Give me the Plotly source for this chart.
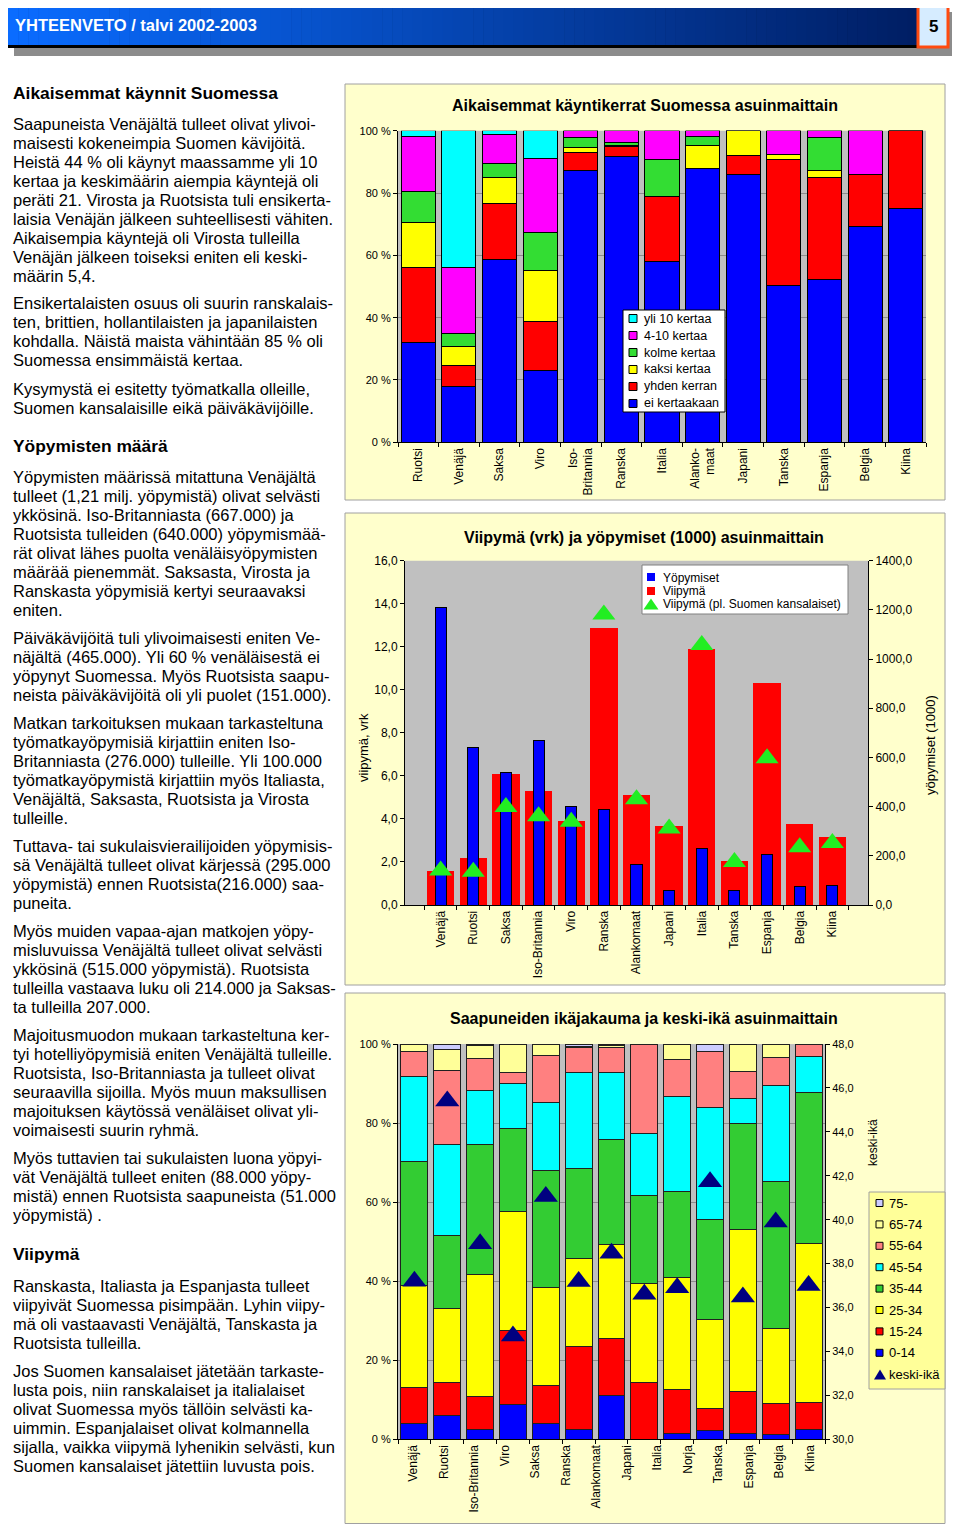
import plotly.graph_objects as go

# ---------------- chart 1: previous visits (%) ----------------
visit_countries = ["Ruotsi", "Venäjä", "Saksa", "Viro", "Iso-<br>Britannia", "Ranska", "Italia",
                   "Alanko-<br>maat", "Japani", "Tanska", "Espanja", "Belgia", "Kiina"]
visit_none = [32.0, 17.9, 58.7, 23.0, 87.1, 91.7, 58.0, 87.9, 85.8, 50.2, 52.3, 69.2, 74.9]
visit_once = [24.0, 6.8, 18.0, 15.9, 5.8, 3.2, 21.0, 0.0, 6.4, 40.4, 32.7, 16.6, 25.1]
visit_twice = [14.5, 6.0, 8.2, 16.2, 1.8, 0.4, 0.0, 7.3, 7.8, 1.9, 2.2, 0.0, 0.0]
visit_three = [10.1, 4.3, 4.6, 12.2, 3.2, 1.0, 11.6, 2.9, 0.0, 0.0, 10.6, 0.0, 0.0]
visit_4_10 = [17.5, 21.0, 9.4, 23.8, 2.1, 3.7, 9.4, 1.9, 0.0, 7.5, 2.2, 14.2, 0.0]
visit_over10 = [1.9, 44.0, 1.1, 8.9, 0.0, 0.0, 0.0, 0.0, 0.0, 0.0, 0.0, 0.0, 0.0]
visit_names = ["ei kertaakaan", "yhden kerran", "kaksi kertaa", "kolme kertaa", "4-10 kertaa", "yli 10 kertaa"]

# ---------------- chart 2: length of stay & overnights ----------------
stay_countries = ["Venäjä", "Ruotsi", "Saksa", "Iso-Britannia", "Viro", "Ranska", "Alankomaat",
                  "Japani", "Italia", "Tanska", "Espanja", "Belgia", "Kiina"]
nights_1000 = [1210, 640, 538, 667, 400, 389, 163, 61, 230, 61, 206, 75, 81]
stay_days = [1.6, 2.2, 6.07, 5.31, 3.9, 12.89, 5.11, 3.69, 11.88, 2.06, 10.33, 3.75, 3.14]
stay_days_excl = [1.6, 1.55, 4.55, 4.13, 3.87, 13.5, 4.91, 3.55, 12.08, 2.0, 6.82, 2.68, 2.88]
stay_names = ["Yöpymiset", "Viipymä", "Viipymä (pl. Suomen kansalaiset)"]

# ---------------- chart 3: age distribution (%) & mean age ----------------
age_labels = ["Venäjä", "Ruotsi", "Iso-Britannia", "Viro", "Saksa", "Ranska", "Alankomaat",
              "Japani", "Italia", "Norja", "Tanska", "Espanja", "Belgia", "Kiina"]
age_0_14 = [3.9, 6.0, 2.5, 8.7, 3.9, 2.5, 11.2, 0.0, 1.5, 2.2, 1.5, 1.1, 2.6]
age_15_24 = [9.2, 8.4, 8.3, 18.7, 9.8, 20.9, 14.3, 14.4, 11.0, 5.6, 10.7, 8.0, 6.8]
age_25_34 = [25.8, 18.7, 30.8, 30.2, 24.7, 22.4, 23.8, 25.1, 28.4, 22.4, 40.8, 19.0, 40.2]
age_35_44 = [31.5, 18.4, 32.9, 20.9, 29.7, 22.6, 26.6, 22.1, 21.7, 25.3, 26.9, 37.2, 38.2]
age_45_54 = [21.5, 23.0, 13.7, 11.6, 17.1, 24.4, 16.9, 15.8, 24.1, 28.4, 6.2, 24.3, 9.0]
age_55_64 = [6.3, 18.9, 8.2, 2.7, 12.0, 6.3, 6.3, 22.6, 9.3, 14.3, 6.9, 6.9, 3.2]
age_65_74 = [1.8, 5.3, 3.3, 7.2, 2.8, 0.2, 0.6, 0.0, 4.0, 0.0, 7.0, 3.5, 0.0]
age_75 = [0.0, 1.3, 0.3, 0.0, 0.0, 0.7, 0.3, 0.0, 0.0, 1.8, 0.0, 0.0, 0.0]
mean_age = [37.2, 45.4, 38.9, 34.7, 41.06, 37.19, 38.47, 36.6, 36.9, 41.73, 36.48, 39.9, 37.0]
age_names = ["0-14", "15-24", "25-34", "35-44", "45-54", "55-64", "65-74", "75-"]
mean_name = "keski-ikä"

# ---------------- left column text ----------------
text_blocks = [
    (93, True, ["Aikaisemmat käynnit Suomessa"]),
    (124, False, ["Saapuneista Venäjältä tulleet olivat ylivoi-",
                  "maisesti kokeneimpia Suomen kävijöitä.",
                  "Heistä 44 % oli käynyt maassamme yli 10",
                  "kertaa ja keskimäärin aiempia käyntejä oli",
                  "peräti 21. Virosta ja Ruotsista tuli ensikerta-",
                  "laisia Venäjän jälkeen suhteellisesti vähiten.",
                  "Aikaisempia käyntejä oli Virosta tulleilla",
                  "Venäjän jälkeen toiseksi eniten eli keski-",
                  "määrin 5,4."]),
    (303, False, ["Ensikertalaisten osuus oli suurin ranskalais-",
                  "ten, brittien, hollantilaisten ja japanilaisten",
                  "kohdalla. Näistä maista vähintään 85 % oli",
                  "Suomessa ensimmäistä kertaa."]),
    (389, False, ["Kysymystä ei esitetty työmatkalla olleille,",
                  "Suomen kansalaisille eikä päiväkävijöille."]),
    (446, True, ["Yöpymisten määrä"]),
    (477, False, ["Yöpymisten määrissä mitattuna Venäjältä",
                  "tulleet (1,21 milj. yöpymistä) olivat selvästi",
                  "ykkösinä. Iso-Britanniasta (667.000) ja",
                  "Ruotsista tulleiden (640.000) yöpymismää-",
                  "rät olivat lähes puolta venäläisyöpymisten",
                  "määrää pienemmät. Saksasta, Virosta ja",
                  "Ranskasta yöpymisiä kertyi seuraavaksi",
                  "eniten."]),
    (638, False, ["Päiväkävijöitä tuli ylivoimaisesti eniten Ve-",
                  "näjältä (465.000). Yli 60 % venäläisestä ei",
                  "yöpynyt Suomessa. Myös Ruotsista saapu-",
                  "neista päiväkävijöitä oli yli puolet (151.000)."]),
    (723, False, ["Matkan tarkoituksen mukaan tarkasteltuna",
                  "työmatkayöpymisiä kirjattiin eniten Iso-",
                  "Britanniasta (276.000) tulleille. Yli 100.000",
                  "työmatkayöpymistä kirjattiin myös Italiasta,",
                  "Venäjältä, Saksasta, Ruotsista ja Virosta",
                  "tulleille."]),
    (846, False, ["Tuttava- tai sukulaisvierailijoiden yöpymisis-",
                  "sä Venäjältä tulleet olivat kärjessä (295.000",
                  "yöpymistä) ennen Ruotsista(216.000) saa-",
                  "puneita."]),
    (931, False, ["Myös muiden vapaa-ajan matkojen yöpy-",
                  "misluvuissa Venäjältä tulleet olivat selvästi",
                  "ykkösinä (515.000 yöpymistä). Ruotsista",
                  "tulleilla vastaava luku oli 214.000 ja Saksas-",
                  "ta tulleilla 207.000."]),
    (1035, False, ["Majoitusmuodon mukaan tarkasteltuna ker-",
                   "tyi hotelliyöpymisiä eniten Venäjältä tulleille.",
                   "Ruotsista, Iso-Britanniasta ja tulleet olivat",
                   "seuraavilla sijoilla. Myös muun maksullisen",
                   "majoituksen käytössä venäläiset olivat yli-",
                   "voimaisesti suurin ryhmä."]),
    (1158, False, ["Myös tuttavien tai sukulaisten luona yöpyi-",
                   "vät Venäjältä tulleet eniten (88.000 yöpy-",
                   "mistä) ennen Ruotsista saapuneista (51.000",
                   "yöpymistä) ."]),
    (1254, True, ["Viipymä"]),
    (1286, False, ["Ranskasta, Italiasta ja Espanjasta tulleet",
                   "viipyivät Suomessa pisimpään. Lyhin viipy-",
                   "mä oli vastaavasti Venäjältä, Tanskasta ja",
                   "Ruotsista tulleilla."]),
    (1371, False, ["Jos Suomen kansalaiset jätetään tarkaste-",
                   "lusta pois, niin ranskalaiset ja italialaiset",
                   "olivat Suomessa myös tällöin selvästi ka-",
                   "uimmin. Espanjalaiset olivat kolmannella",
                   "sijalla, vaikka viipymä lyhenikin selvästi, kun",
                   "Suomen kansalaiset jätettiin luvusta pois."]),
]

# page is 960x1532; the html body has an 8px margin, so the figure is 944x1516
OFF = 8
W, H = 960 - 2 * OFF, 1532 - 2 * OFF


def fx(x):
    return (x - OFF) / W


def fy(y):
    return 1 - (y - OFF) / H


FONT = "Liberation Sans, Arial, sans-serif"
NARROW = "Liberation Sans Narrow, Arial Narrow, Liberation Sans, Arial, sans-serif"

C_BLUE, C_RED, C_YEL, C_GRN, C_MAG, C_CYAN = "#0000ff", "#ff0000", "#ffff00", "#33dd33", "#ff00ff", "#00ffff"

fig = go.Figure()

# ---- chart 1 traces ----
c1 = [(visit_none, C_BLUE), (visit_once, C_RED), (visit_twice, C_YEL),
      (visit_three, C_GRN), (visit_4_10, C_MAG), (visit_over10, C_CYAN)]
for i, (vals, col) in enumerate(c1):
    fig.add_trace(go.Bar(
        x=visit_countries, y=vals, name=visit_names[i], xaxis="x", yaxis="y",
        width=0.84, marker=dict(color=col, line=dict(color="black", width=1))))

# ---- chart 2 traces ----
TRI_GREEN = "#22ee22"
fig.add_trace(go.Bar(x=stay_countries, y=stay_days, name=stay_names[1], xaxis="x2", yaxis="y2",
                     width=0.84, marker=dict(color=C_RED, line=dict(width=0))))
fig.add_trace(go.Bar(x=stay_countries, y=nights_1000, name=stay_names[0], xaxis="x2", yaxis="y3",
                     width=0.34, marker=dict(color=C_BLUE, line=dict(color="black", width=1))))
fig.add_trace(go.Scatter(x=stay_countries, y=stay_days_excl, name=stay_names[2],
                         xaxis="x2", yaxis="y6", mode="markers",
                         marker=dict(symbol="triangle-up", size=20, color=TRI_GREEN)))

# ---- chart 3 traces ----
bar_pos = list(range(len(age_0_14)))
c3 = [(age_0_14, "#0000ff"), (age_15_24, "#ff0000"), (age_25_34, "#ffff00"), (age_35_44, "#33cc33"),
      (age_45_54, "#00ffff"), (age_55_64, "#ff8080"), (age_65_74, "#ffff99"), (age_75, "#ccccff")]
for i, (vals, col) in enumerate(c3):
    fig.add_trace(go.Bar(
        x=bar_pos, y=vals, name=age_names[i], xaxis="x3", yaxis="y4",
        width=0.82, marker=dict(color=col, line=dict(color="#202020", width=1))))
NAVY = "#000080"
fig.add_trace(go.Scatter(x=bar_pos, y=mean_age, name=mean_name, xaxis="x3", yaxis="y5",
                         mode="markers", marker=dict(symbol="triangle-up", size=21, color=NAVY)))

n_lab = len(age_labels)
n_bar = len(bar_pos)
label_pos = [-0.5 + (i + 0.5) * n_bar / n_lab for i in range(n_lab)]

axis_common = dict(showline=True, linecolor="black", linewidth=1, ticks="outside",
                   tickcolor="black", ticklen=4, zeroline=False, fixedrange=True, automargin=False)

# ---- shapes ----
shapes = []


def rect(x0, y0, x1, y1, fill, line=None, lw=0, layer="below"):
    shapes.append(dict(type="rect", xref="paper", yref="paper",
                       x0=fx(x0), x1=fx(x1), y0=fy(y1), y1=fy(y0),
                       fillcolor=fill, line=dict(color=line or fill, width=lw), layer=layer))


def triangle(cx, cy, w, h, fill):
    path = "M %f,%f L %f,%f L %f,%f Z" % (fx(cx - w / 2), fy(cy + h / 2), fx(cx + w / 2), fy(cy + h / 2),
                                          fx(cx), fy(cy - h / 2))
    shapes.append(dict(type="path", xref="paper", yref="paper", path=path, fillcolor=fill,
                       line=dict(width=0), layer="above"))


# chart panels and plot-area backgrounds
rect(345, 84, 945, 500, "#ffffcc", "#a0a0a0", 1)
rect(398, 130.7, 926, 442.3, "#c0c0c0")
rect(345, 513, 945, 985, "#ffffcc", "#a0a0a0", 1)
rect(405, 560.7, 868, 905, "#c0c0c0")
rect(345, 993, 945, 1523.5, "#ffffcc", "#a0a0a0", 1)
rect(398, 1044, 825, 1439.3, "#c0c0c0")

# header
rect(14, 12, 956, 56, "#8c8c8c", layer="above")
rect(5, 4, 921, 48, "#000000", layer="above")
n_strip = 90
x_start, x_end = 8, 918
c_left = (10, 108, 255)
c_right = (0, 30, 100)
for k in range(n_strip):
    t = k / (n_strip - 1)
    col = "rgb(%d,%d,%d)" % tuple(round(a + (b - a) * t) for a, b in zip(c_left, c_right))
    xa = x_start + (x_end - x_start) * k / n_strip
    xb = x_start + (x_end - x_start) * (k + 1) / n_strip + 0.6
    rect(xa, 6, xb, 45, col, layer="above")
rect(918, 5, 948, 47, "#d6ecff", "#ff4a10", 3, layer="above")

# ---- annotations ----
ann = []


def text(x, y, s, size, xanchor="left", angle=0, family=FONT, color="black"):
    ann.append(dict(x=fx(x), y=fy(y), xref="paper", yref="paper", xanchor=xanchor, yanchor="middle",
                    text=s, showarrow=False, textangle=angle,
                    font=dict(family=family, size=size, color=color)))


text(12.5, 25, "<b>YHTEENVETO / talvi 2002-2003</b>", 16.5, family=NARROW, color="white")
text(933, 26, "<b>5</b>", 17, xanchor="center", family=NARROW)

for y0, bold, lines in text_blocks:
    for j, line in enumerate(lines):
        text(10.5, y0 + 19 * j, ("<b>%s</b>" % line) if bold else line, 17.4 if bold else 16.5)

text(645, 106, "<b>Aikaisemmat käyntikerrat Suomessa asuinmaittain</b>", 16, xanchor="center")
text(644, 537, "<b>Viipymä (vrk) ja yöpymiset (1000) asuinmaittain</b>", 16, xanchor="center")
text(644, 1018, "<b>Saapuneiden ikäjakauma ja keski-ikä asuinmaittain</b>", 16, xanchor="center")
text(363, 748, "viipymä, vrk", 13, xanchor="center", angle=-90)
text(930, 745, "yöpymiset (1000)", 13, xanchor="center", angle=-90)
text(873, 1143, "keski-ikä", 12, xanchor="center", angle=-90)

# ---- legends (drawn from the series names/colours) ----
# legend 1
rect(623, 310, 725, 412, "white", "black", 1, layer="above")
for j, (name, (vals, col)) in enumerate(zip(visit_names[::-1], c1[::-1])):
    yy = 318.5 + 17 * j
    rect(629, yy - 4, 637, yy + 4, col, "black", 1, layer="above")
    text(642, yy, name, 12.5)

# legend 2
rect(642, 565, 848, 614, "white", "#808080", 1, layer="above")
rect(647, 573, 655, 581, C_BLUE, C_BLUE, 0, layer="above")
text(661, 577.5, stay_names[0], 12)
rect(647, 587, 655, 595, C_RED, C_RED, 0, layer="above")
text(661, 591, stay_names[1], 12)
triangle(651, 604, 15, 11, TRI_GREEN)
text(661, 604.5, stay_names[2], 12)

# legend 3
rect(869, 1192, 945, 1389, "#ffff99", "#a0a0a0", 1, layer="above")
for j, (name, (vals, col)) in enumerate(zip(age_names[::-1], c3[::-1])):
    yy = 1203 + 21.4 * j
    rect(876, yy - 3.5, 883, yy + 3.5, col, "black", 1, layer="above")
    text(887, yy, name, 13)
triangle(880, 1374.5, 12, 10, NAVY)
text(887, 1374, mean_name, 13)

dom2 = [fy(905), fy(560.7)]
dom3 = [fy(1439.3), fy(1044)]

fig.update_layout(
    width=W, height=H, autosize=False, showlegend=False,
    margin=dict(l=0, r=0, t=0, b=0, pad=0, autoexpand=False),
    paper_bgcolor="white", plot_bgcolor="rgba(0,0,0,0)",
    barmode="stack", separators=", ",
    font=dict(family=FONT, size=12, color="black"),
    shapes=shapes, annotations=ann,
    # chart 1
    xaxis=dict(domain=[fx(398), fx(926)], anchor="y", type="category", tickangle=-90,
               tickson="boundaries", tickfont=dict(size=12), **axis_common),
    yaxis=dict(domain=[fy(442.3), fy(130.7)], anchor="x", range=[0, 100], dtick=20,
               ticksuffix=" %", showgrid=True, gridcolor="#8c8c8c", gridwidth=1,
               tickfont=dict(size=11), **axis_common),
    # chart 2
    xaxis2=dict(domain=[fx(405), fx(868)], anchor="y2", type="category", tickangle=-90,
                tickson="boundaries", tickfont=dict(size=12), **axis_common),
    yaxis2=dict(domain=dom2, anchor="x2", range=[0, 16], dtick=2,
                tickformat=".1f", showgrid=False, tickfont=dict(size=12), **axis_common),
    yaxis3=dict(domain=dom2, overlaying="y2", anchor="x2", side="right", range=[0, 1400], dtick=200,
                tickformat=".1f", showgrid=False, tickfont=dict(size=12), **axis_common),
    yaxis6=dict(domain=dom2, overlaying="y2", anchor="x2", range=[0, 16], visible=False,
                fixedrange=True, automargin=False),
    # chart 3
    xaxis3=dict(domain=[fx(398), fx(825)], anchor="y4", type="linear", range=[-0.5, n_bar - 0.5],
                tickmode="array", tickvals=label_pos, ticktext=age_labels, tickangle=-90,
                showline=True, linecolor="black", ticks="", showgrid=False, zeroline=False,
                minor=dict(tick0=-0.5, dtick=1, ticks="outside", ticklen=4, tickcolor="black",
                           showgrid=False),
                tickfont=dict(size=12), fixedrange=True, automargin=False),
    yaxis4=dict(domain=dom3, anchor="x3", range=[0, 100], dtick=20,
                ticksuffix=" %", showgrid=True, gridcolor="#8c8c8c", gridwidth=1,
                tickfont=dict(size=11), **axis_common),
    yaxis5=dict(domain=dom3, overlaying="y4", anchor="x3", side="right", range=[30, 48], dtick=2,
                tickformat=".1f", showgrid=False, tickfont=dict(size=11), **axis_common),
)

fig.write_html("out.html")
